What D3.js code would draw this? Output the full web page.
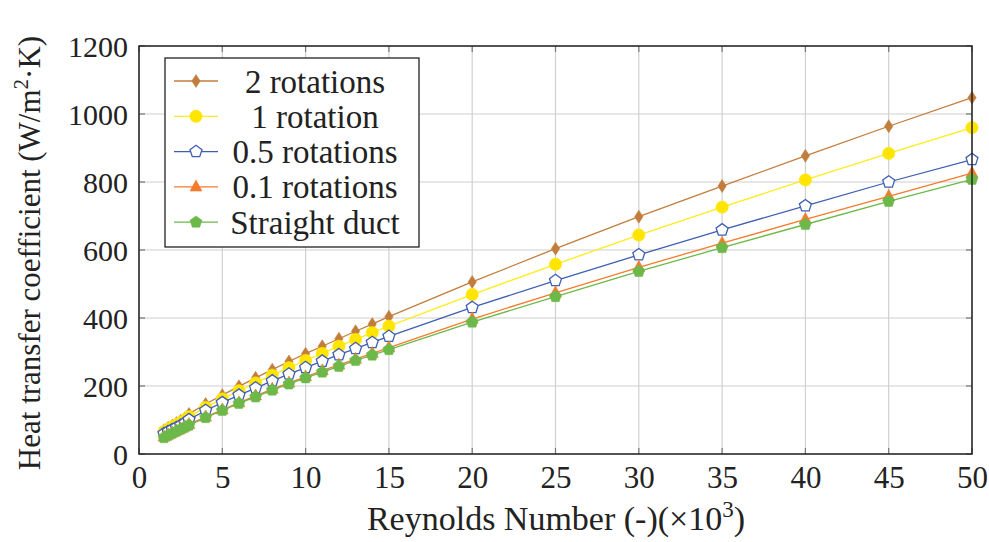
<!DOCTYPE html>
<html><head><meta charset="utf-8">
<script src="https://cdn.jsdelivr.net/npm/d3@7"></script>
<style>body{margin:0;background:#fff}svg{display:block}</style>
</head><body><svg id="c" width="989" height="542" style="font-family:'Liberation Serif'"></svg>
<script>
const reynolds = [1.5,1.75,2,2.25,2.5,2.75,3,4,5,6,7,8,9,10,11,12,13,14,15,20,25,30,35,40,45,50];
const rot2     = [70,77,84,91,98,105,118,147,173,199,224,248,272,295,317,339,361,382,404,506,604,698,788,877,964,1048];
const rot1     = [66,73,80,86,93,100,110,137,162,186,209,232,254,275,296,317,337,357,376,469,558,644,726,806,884,960];
const rot05    = [60,66,72,78,84,91,101,128,151,173,194,215,235,254,273,292,310,328,346,431,510,586,659,730,800,866];
const rot01    = [50,56,62,68,74,80,87,109,130,151,171,191,209,227,245,262,279,296,313,397,474,549,620,690,758,826];
const straight = [48,55,61,67,73,79,85,107,128,149,168,188,206,224,241,258,275,291,307,388,463,537,607,675,743,808];
const seriesNames = ["2 rotations","1 rotation","0.5 rotations","0.1 rotations","Straight duct"];
const xTicks = [0,5,10,15,20,25,30,35,40,45,50];
const yTicks = [0,200,400,600,800,1000,1200];

const styles = [
  {color:"#c27d3c", mcolor:"#c27d3c", sym:"diamond", fill:true},
  {color:"#ffec1a", mcolor:"#ffe500", sym:"circle", fill:true},
  {color:"#3f5fb2", mcolor:"#3f5fb2", sym:"pentagon", fill:false},
  {color:"#f57b2c", mcolor:"#f57b2c", sym:"triangle", fill:true},
  {color:"#6cb94a", mcolor:"#6cb94a", sym:"pentagon", fill:true}
];
const data = [rot2,rot1,rot05,rot01,straight];
const FONT = "'Liberation Serif'";

const svg = d3.select("#c");
const L=139,R=972,T=46,B=454;
const x = d3.scaleLinear().domain([0,50]).range([L,R]);
const y = d3.scaleLinear().domain([0,1200]).range([B,T]);

// grid
const g = svg.append("g");
g.selectAll(".gx").data(xTicks).join("line").attr("x1",d=>x(d)).attr("x2",d=>x(d)).attr("y1",T).attr("y2",B).attr("stroke","#d0d0d0").attr("stroke-width",1.2);
g.selectAll(".gy").data(yTicks).join("line").attr("y1",d=>y(d)).attr("y2",d=>y(d)).attr("x1",L).attr("x2",R).attr("stroke","#d0d0d0").attr("stroke-width",1.2);

// axes
const ax = d3.axisBottom(x).tickValues(xTicks).tickFormat(d3.format("d")).tickSize(0).tickPadding(0);
svg.append("g").attr("transform",`translate(0,${B})`).call(ax).call(s=>{s.attr("font-family",null).attr("font-size",null);s.select(".domain").remove();s.selectAll("text").style("font-family",FONT).attr("font-size",31).attr("y",34).attr("dy",null).attr("fill","#222");});
const ay = d3.axisLeft(y).tickValues(yTicks).tickFormat(d3.format("d")).tickSize(0).tickPadding(11);
svg.append("g").attr("transform",`translate(${L},0)`).call(ay).call(s=>{s.attr("font-family",null).attr("font-size",null);s.select(".domain").remove();s.selectAll("text").style("font-family",FONT).attr("font-size",30).attr("fill","#222").attr("dy","0.35em");});
// inner tick marks
const tk = svg.append("g").attr("stroke","#777").attr("stroke-width",1.2);
xTicks.forEach(t=>{tk.append("line").attr("x1",x(t)).attr("x2",x(t)).attr("y1",B).attr("y2",B-6);tk.append("line").attr("x1",x(t)).attr("x2",x(t)).attr("y1",T).attr("y2",T+6);});
yTicks.forEach(t=>{tk.append("line").attr("y1",y(t)).attr("y2",y(t)).attr("x1",L).attr("x2",L+6);tk.append("line").attr("y1",y(t)).attr("y2",y(t)).attr("x1",R).attr("x2",R-6);});

// series
function symPath(sym){
  if(sym==="diamond") return "M0,-6.5L4.2,0L0,6.5L-4.2,0Z";
  if(sym==="circle") return d3.symbol(d3.symbolCircle,120)();
  if(sym==="triangle") return "M0,-7L6,4.2L-6,4.2Z";
  if(sym==="pentagon"){const r=6.3;let p=[];for(let i=0;i<5;i++){const a=-Math.PI/2+i*2*Math.PI/5;p.push([r*Math.cos(a),r*Math.sin(a)]);}return "M"+p.map(q=>q.join(",")).join("L")+"Z";}
}
const line = d3.line().x(d=>x(d[0])).y(d=>y(d[1]));
data.forEach((vals,i)=>{
  const st=styles[i];
  const pts = reynolds.map((r,j)=>[r,vals[j]]);
  svg.append("path").datum(pts).attr("d",line).attr("fill","none").attr("stroke",st.color).attr("stroke-width",1.3);
  svg.append("g").selectAll("path").data(pts).join("path")
    .attr("transform",d=>`translate(${x(d[0])},${y(d[1])})`)
    .attr("d",symPath(st.sym))
    .attr("fill",st.fill?st.mcolor:"#fff").attr("stroke",st.mcolor).attr("stroke-width",st.fill?0.5:1.3);
});

// frame
svg.append("rect").attr("x",L).attr("y",T).attr("width",R-L).attr("height",B-T).attr("fill","none").attr("stroke","#222").attr("stroke-width",1.5);

// legend
const lg = svg.append("g");
lg.append("rect").attr("x",165).attr("y",58).attr("width",254).attr("height",189).attr("fill","#fff").attr("stroke","#222").attr("stroke-width",1.3);
seriesNames.forEach((n,i)=>{
  const yy=81+i*35.3, st=styles[i];
  lg.append("line").attr("x1",174).attr("x2",218).attr("y1",yy).attr("y2",yy).attr("stroke",st.color).attr("stroke-width",1.3);
  lg.append("path").attr("transform",`translate(196,${yy})`).attr("d",symPath(st.sym)).attr("fill",st.fill?st.mcolor:"#fff").attr("stroke",st.mcolor).attr("stroke-width",st.fill?0.5:1.3);
  lg.append("text").style("font-family",FONT).attr("fill","#222").attr("x",315).attr("y",yy).attr("dy","0.35em").attr("text-anchor","middle").attr("font-size",33).text(n);
});

// axis titles
svg.append("text").style("font-family",FONT).attr("fill","#222").attr("x",556).attr("y",530).attr("text-anchor","middle").attr("font-size",34)
  .html('Reynolds Number (-)(×10<tspan font-size="23" dy="-13">3</tspan><tspan dy="13">)</tspan>');
svg.append("text").style("font-family",FONT).attr("fill","#222").attr("transform","translate(40,253) rotate(-90)").attr("text-anchor","middle").attr("font-size",31)
  .html('Heat transfer coefficient (W/m<tspan font-size="21" dy="-12">2</tspan><tspan dy="12">·K)</tspan>');
</script></body></html>
